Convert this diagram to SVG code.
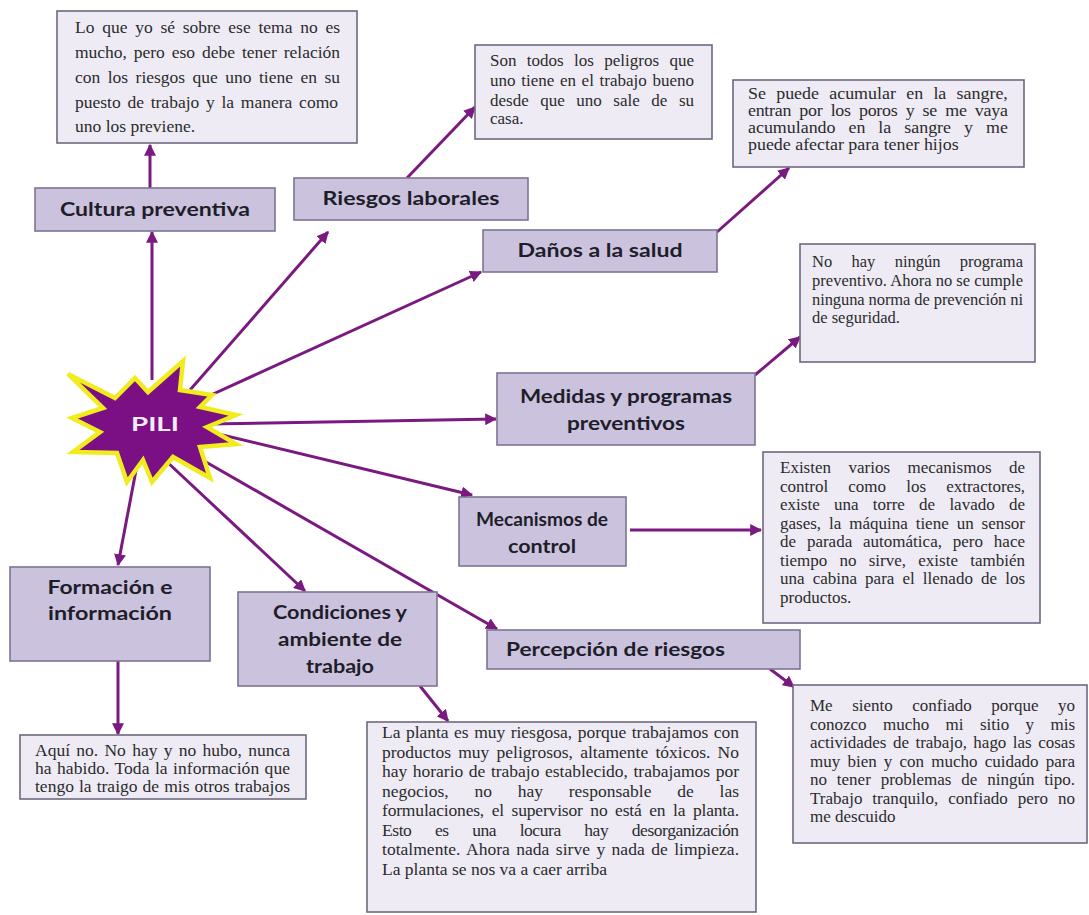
<svg xmlns="http://www.w3.org/2000/svg" width="1089" height="915" viewBox="0 0 1089 915">
<style>
.hd{fill:#cbc2dd;stroke:#7e7394;stroke-width:1.6}
.tb{fill:#eeebf5;stroke:#6e6880;stroke-width:1.6}
.ht{font-family:Lato,"Open Sans",sans-serif;font-weight:bold;font-size:19px;fill:#1e1e2a;text-anchor:middle}
.bt{font-family:"Liberation Serif","Times New Roman",serif;font-size:17px;fill:#2b2b2b}
.f175{font-size:17.5px}
.f165{font-size:16.5px}
.f16{font-size:16px}
.cn line{stroke:#7a1a80;stroke-width:3;marker-end:url(#ah)}
</style>
<defs>
<marker id="ah" viewBox="0 0 10 10" refX="9" refY="5" markerWidth="4" markerHeight="4" orient="auto" markerUnits="strokeWidth">
<path d="M0,0 L10,5 L0,10 z" fill="#7a1a80"/>
</marker>
</defs>
<rect width="1089" height="915" fill="#ffffff"/>

<g id="connectors" class="cn">
<line x1="152" y1="380" x2="152" y2="232"/>
<line x1="150" y1="188" x2="150" y2="145"/>
<line x1="190" y1="390" x2="328" y2="232"/>
<line x1="407" y1="178" x2="475" y2="107"/>
<line x1="200" y1="400" x2="481" y2="272"/>
<line x1="717" y1="232" x2="789" y2="168"/>
<line x1="210" y1="424" x2="496" y2="419"/>
<line x1="755" y1="375" x2="800" y2="337"/>
<line x1="210" y1="432" x2="472" y2="495"/>
<line x1="630" y1="530" x2="761" y2="530"/>
<line x1="185" y1="450" x2="497" y2="629"/>
<line x1="770" y1="669" x2="794" y2="687"/>
<line x1="165" y1="460" x2="305" y2="591"/>
<line x1="420" y1="686" x2="448" y2="721"/>
<line x1="137" y1="465" x2="118" y2="565"/>
<line x1="118" y1="661" x2="118" y2="734"/>
</g>

<g id="pili">
<polygon points="68,374 115,398 135,378 148,392 183,361 180,390 212,395 200,407 236,415 207,427 236,444 200,447 210,478 173,457 152,482 143,460 127,482 117,453 73,452 100,432 72,418 103,408" fill="#7b0f84" stroke="#f0ec1e" stroke-width="4.5" stroke-linejoin="miter"/>
<text x="155" y="431" font-family="Lato,'Open Sans',sans-serif" font-weight="bold" font-size="19" fill="#f3ecf6" text-anchor="middle" textLength="48" lengthAdjust="spacingAndGlyphs">PILI</text>
</g>

<g id="cultura-texto">
<rect class="tb" x="57" y="11" width="300" height="132"/>
<text class="bt f175" x="75" y="33" word-spacing="3.36" textLength="265" lengthAdjust="spacing">Lo que yo sé sobre ese tema no es</text>
<text class="bt f175" x="75" y="58" word-spacing="2.66" textLength="265" lengthAdjust="spacing">mucho, pero eso debe tener relación</text>
<text class="bt f175" x="75" y="83" word-spacing="3.07" textLength="265" lengthAdjust="spacing">con los riesgos que uno tiene en su</text>
<text class="bt f175" x="75" y="108" word-spacing="2.37" textLength="263" lengthAdjust="spacing">puesto de trabajo y la manera como</text>
<text class="bt f175" x="75" y="132">uno los previene.</text>
</g>

<g id="cultura">
<rect class="hd" x="35" y="188" width="240" height="43"/>
<text class="ht" x="155" y="216" textLength="190" lengthAdjust="spacingAndGlyphs">Cultura preventiva</text>
</g>

<g id="riesgos">
<rect class="hd" x="294" y="178" width="234" height="42"/>
<text class="ht" x="411" y="205" textLength="177" lengthAdjust="spacingAndGlyphs">Riesgos laborales</text>
</g>

<g id="riesgos-texto">
<rect class="tb" x="475" y="45" width="237" height="94"/>
<text class="bt" x="490" y="66" word-spacing="6.1" textLength="204" lengthAdjust="spacing">Son todos los peligros que</text>
<text class="bt" x="490" y="86" word-spacing="1.4" textLength="204" lengthAdjust="spacing">uno tiene en el trabajo bueno</text>
<text class="bt" x="490" y="106" word-spacing="7.3" textLength="204" lengthAdjust="spacing">desde que uno sale de su</text>
<text class="bt" x="490" y="124">casa.</text>
</g>

<g id="danos">
<rect class="hd" x="483" y="230" width="234" height="42"/>
<text class="ht" x="600" y="257" textLength="165" lengthAdjust="spacingAndGlyphs">Daños a la salud</text>
</g>

<g id="danos-texto">
<rect class="tb" x="733" y="80" width="291" height="87"/>
<g transform="translate(748,0) scale(1.12,1)">
<text class="bt f16" x="0" y="99" word-spacing="5.2" textLength="232" lengthAdjust="spacing">Se puede acumular en la sangre,</text>
<text class="bt f16" x="0" y="116" word-spacing="3.64" textLength="232" lengthAdjust="spacing">entran por los poros y se me vaya</text>
<text class="bt f16" x="0" y="133" word-spacing="7.6" textLength="232" lengthAdjust="spacing">acumulando en la sangre y me</text>
<text class="bt f16" x="0" y="150">puede afectar para tener hijos</text>
</g>
</g>

<g id="medidas">
<rect class="hd" x="497" y="373" width="258" height="72"/>
<text class="ht" x="626" y="403" textLength="212" lengthAdjust="spacingAndGlyphs">Medidas y programas</text>
<text class="ht" x="626" y="430" textLength="118" lengthAdjust="spacingAndGlyphs">preventivos</text>
</g>

<g id="medidas-texto">
<rect class="tb" x="800" y="244" width="235" height="118"/>
<text class="bt f165" x="812" y="267" word-spacing="15.2" textLength="211" lengthAdjust="spacing">No hay ningún programa</text>
<text class="bt f165" x="812" y="286" textLength="211" lengthAdjust="spacing">preventivo. Ahora no se cumple</text>
<text class="bt f165" x="812" y="305" textLength="211" lengthAdjust="spacing">ninguna norma de prevención ni</text>
<text class="bt f165" x="812" y="323">de seguridad.</text>
</g>

<g id="mecanismos">
<rect class="hd" x="459" y="497" width="167" height="69"/>
<text class="ht" x="542" y="526" textLength="132" lengthAdjust="spacingAndGlyphs">Mecanismos de</text>
<text class="ht" x="542" y="553" textLength="68" lengthAdjust="spacingAndGlyphs">control</text>
</g>

<g id="mecanismos-texto">
<rect class="tb" x="763" y="452" width="277" height="171"/>
<text class="bt" x="780" y="473" word-spacing="13.2" textLength="245" lengthAdjust="spacing">Existen varios mecanismos de</text>
<text class="bt" x="780" y="491.5" word-spacing="15.9" textLength="245" lengthAdjust="spacing">control como los extractores,</text>
<text class="bt" x="780" y="510" word-spacing="10" textLength="245" lengthAdjust="spacing">existe una torre de lavado de</text>
<text class="bt" x="780" y="528.5" word-spacing="3.7" textLength="245" lengthAdjust="spacing">gases, la máquina tiene un sensor</text>
<text class="bt" x="780" y="547" word-spacing="6.6" textLength="245" lengthAdjust="spacing">de parada automática, pero hace</text>
<text class="bt" x="780" y="565.5" word-spacing="8" textLength="245" lengthAdjust="spacing">tiempo no sirve, existe también</text>
<text class="bt" x="780" y="584" word-spacing="3.85" textLength="245" lengthAdjust="spacing">una cabina para el llenado de los</text>
<text class="bt" x="780" y="602.5">productos.</text>
</g>

<g id="percepcion">
<rect class="hd" x="487" y="630" width="313" height="39"/>
<text class="ht" x="506" y="656" style="text-anchor:start" textLength="219" lengthAdjust="spacingAndGlyphs">Percepción de riesgos</text>
</g>

<g id="percepcion-texto">
<rect class="tb" x="793" y="685" width="294" height="158"/>
<text class="bt" x="810" y="711" word-spacing="15.25" textLength="265" lengthAdjust="spacing">Me siento confiado porque yo</text>
<text class="bt" x="810" y="729.5" word-spacing="12.1" textLength="265" lengthAdjust="spacing">conozco mucho mi sitio y mis</text>
<text class="bt" x="810" y="748" word-spacing="2.2" textLength="265" lengthAdjust="spacing">actividades de trabajo, hago las cosas</text>
<text class="bt" x="810" y="766.5" word-spacing="2.9" textLength="265" lengthAdjust="spacing">muy bien y con mucho cuidado para</text>
<text class="bt" x="810" y="785" word-spacing="5.6" textLength="265" lengthAdjust="spacing">no tener problemas de ningún tipo.</text>
<text class="bt" x="810" y="803.5" word-spacing="5.7" textLength="265" lengthAdjust="spacing">Trabajo tranquilo, confiado pero no</text>
<text class="bt" x="810" y="822">me descuido</text>
</g>

<g id="formacion">
<rect class="hd" x="10" y="567" width="200" height="94"/>
<text class="ht" x="110" y="594" textLength="125" lengthAdjust="spacingAndGlyphs">Formación e</text>
<text class="ht" x="110" y="620" textLength="124" lengthAdjust="spacingAndGlyphs">información</text>
</g>

<g id="formacion-texto">
<rect class="tb" x="20" y="735" width="286" height="64"/>
<text class="bt f175" x="35" y="756" word-spacing="1.9" textLength="255" lengthAdjust="spacing">Aquí no. No hay y no hubo, nunca</text>
<text class="bt f175" x="35" y="774" word-spacing="1" textLength="255" lengthAdjust="spacing">ha habido. Toda la información que</text>
<text class="bt f175" x="35" y="792" word-spacing="0.7" textLength="255" lengthAdjust="spacing">tengo la traigo de mis otros trabajos</text>
</g>

<g id="condiciones">
<rect class="hd" x="238" y="592" width="199" height="94"/>
<text class="ht" x="340" y="619" textLength="134" lengthAdjust="spacingAndGlyphs">Condiciones y</text>
<text class="ht" x="340" y="646" textLength="124" lengthAdjust="spacingAndGlyphs">ambiente de</text>
<text class="ht" x="340" y="673" textLength="68" lengthAdjust="spacingAndGlyphs">trabajo</text>
</g>

<g id="condiciones-texto">
<rect class="tb" x="367" y="722" width="389" height="190"/>
<text class="bt f175" x="382" y="738" word-spacing="1.16" textLength="357" lengthAdjust="spacing">La planta es muy riesgosa, porque trabajamos con</text>
<text class="bt f175" x="382" y="757.5" word-spacing="2.9" textLength="357" lengthAdjust="spacing">productos muy peligrosos, altamente tóxicos. No</text>
<text class="bt f175" x="382" y="777" word-spacing="1.3" textLength="357" lengthAdjust="spacing">hay horario de trabajo establecido, trabajamos por</text>
<text class="bt f175" x="382" y="796.5" word-spacing="21.4" textLength="357" lengthAdjust="spacing">negocios, no hay responsable de las</text>
<text class="bt f175" x="382" y="816" word-spacing="3.4" textLength="357" lengthAdjust="spacing">formulaciones, el supervisor no está en la planta.</text>
<text class="bt f175" x="382" y="835.5" word-spacing="19.6" textLength="357" lengthAdjust="spacing">Esto es una locura hay desorganización</text>
<text class="bt f175" x="382" y="855" word-spacing="2.06" textLength="357" lengthAdjust="spacing">totalmente. Ahora nada sirve y nada de limpieza.</text>
<text class="bt f175" x="382" y="874.5">La planta se nos va a caer arriba</text>
</g>
</svg>
